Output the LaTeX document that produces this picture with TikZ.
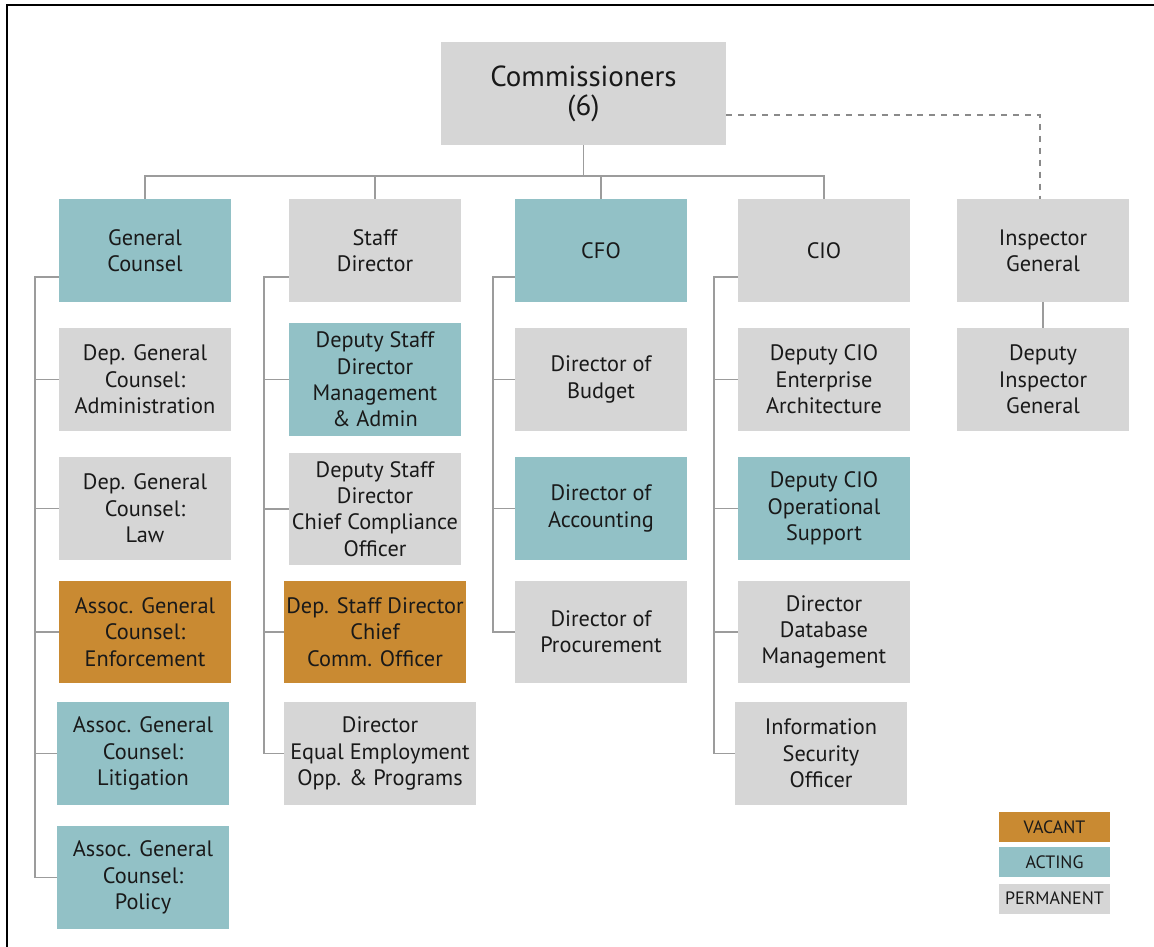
\documentclass[tikz,border=0pt]{standalone}
\usepackage{fontspec}
\setmainfont{PT Sans}
\definecolor{permgray}{HTML}{D6D6D6}
\definecolor{actteal}{HTML}{92C1C6}
\definecolor{vacorange}{HTML}{C98A32}
\definecolor{linegray}{HTML}{9C9C9C}
\definecolor{dashgray}{HTML}{8A8A8A}
\tikzset{
	post/.style={minimum width=3.44cm, minimum height=2.06cm, align=center, inner sep=1pt,
		font=\fontsize{12.7}{15}\selectfont, text=black!90},
	perm/.style={post, fill=permgray},
	acting/.style={post, fill=actteal},
	vacant/.style={post, fill=vacorange},
	key/.style={minimum width=2.22cm, minimum height=0.6cm, inner sep=0pt, font=\fontsize{10.2}{12}\selectfont, text=black!90},
	link/.style={draw=linegray, line width=0.75pt},
	dotlink/.style={draw=dashgray, line width=0.85pt, dash pattern=on 3.4pt off 3.4pt},
}
\begin{document}
\begin{tikzpicture}[x=0.02cm, y=-0.02cm]
		\useasboundingbox (0,0) rectangle (1154,947);
		\draw [line width=0.9pt] (7,947) -- (7,5) -- (1154,5);
		
		\node [perm, minimum width=5.7cm, font=\fontsize{16.5}{16.5}\selectfont] (comm) at (583.5,93.5) {Commissioners\\(6)};
		
		\node [acting] (gc) at (145,250.5) {General\\Counsel};
		\node [perm] (sd) at (375,250.5) {Staff\\Director};
		\node [acting] (cfo) at (601,250.5) {CFO};
		\node [perm] (cio) at (824,250.5) {CIO};
		\node [perm] (ig) at (1043,250.5) {Inspector\\General};
		
		\node [perm] (gc1) at (145,379.5) {Dep. General\\Counsel:\\Administration};
		\node [perm] (gc2) at (145,508.5) {Dep. General\\Counsel:\\Law};
		\node [vacant] (gc3) at (145,632) {Assoc. General\\Counsel:\\Enforcement};
		\node [acting] (gc4) at (143,753.5) {Assoc. General\\Counsel:\\Litigation};
		\node [acting] (gc5) at (143,877.5) {Assoc. General\\Counsel:\\Policy};
		
		\node [acting, minimum height=2.26cm] (sd1) at (375,379.5) {Deputy Staff\\Director\\Management\\\& Admin};
		\node [perm, minimum height=2.24cm] (sd2) at (375,509) {Deputy Staff\\Director\\Chief Compliance\\Officer};
		\node [vacant, minimum width=3.64cm] (sd3) at (375,632) {Dep. Staff Director\\Chief\\Comm. Officer};
		\node [perm, minimum width=3.84cm] (sd4) at (380,753.5) {Director\\Equal Employment\\Opp. \& Programs};
		
		\node [perm] (cfo1) at (601,379.5) {Director of\\Budget};
		\node [acting] (cfo2) at (601,508.5) {Director of\\Accounting};
		\node [perm] (cfo3) at (601,632) {Director of\\Procurement};
		
		\node [perm] (cio1) at (824,379.5) {Deputy CIO\\Enterprise\\Architecture};
		\node [acting] (cio2) at (824,508.5) {Deputy CIO\\Operational\\Support};
		\node [perm] (cio3) at (824,632) {Director\\Database\\Management};
		\node [perm] (cio4) at (821,753.5) {Information\\Security\\Officer};
		
		\node [perm] (ig1) at (1043,379.5) {Deputy\\Inspector\\General};
		
		% top level
		\coordinate (bus) at (583.5,176);
		\draw [link] (comm.south) -- (bus);
		\draw [link] (gc.north) |- (bus) -| (cio.north);
		\foreach \n in {sd,cfo} \draw [link] (\n.north) -- (\n.north|-bus);
		\coordinate (dash) at (1040,115);
		\draw [dotlink] (comm.east|-dash) -- (dash) -- (dash|-ig.north);
		\draw [link] (ig.south) -- (ig1.north);
		
		% branches
		\foreach \p/\x/\last in {gc/35/gc5, sd/264/sd4, cfo/493/cfo3, cio/714/cio4} {
			\coordinate (b\p) at (\x,277);
			\draw [link] (\p.west|-b\p) -- (b\p) |- (\last.west);
		}
		\foreach \p/\c in {gc/gc1, gc/gc2, gc/gc3, gc/gc4, sd/sd1, sd/sd2, sd/sd3, cfo/cfo1, cfo/cfo2, cio/cio1, cio/cio2, cio/cio3}
			\draw [link] (b\p|-\c.west) -- (\c.west);
		
		% legend
		\node [key, fill=vacorange] (kvac) at (1054.5,827) {VACANT};
		\node [key, fill=actteal] (kact) at (1054.5,862) {ACTING};
		\node [key, fill=permgray] (kperm) at (1054.5,898.5) {PERMANENT};
\end{tikzpicture}
\end{document}
